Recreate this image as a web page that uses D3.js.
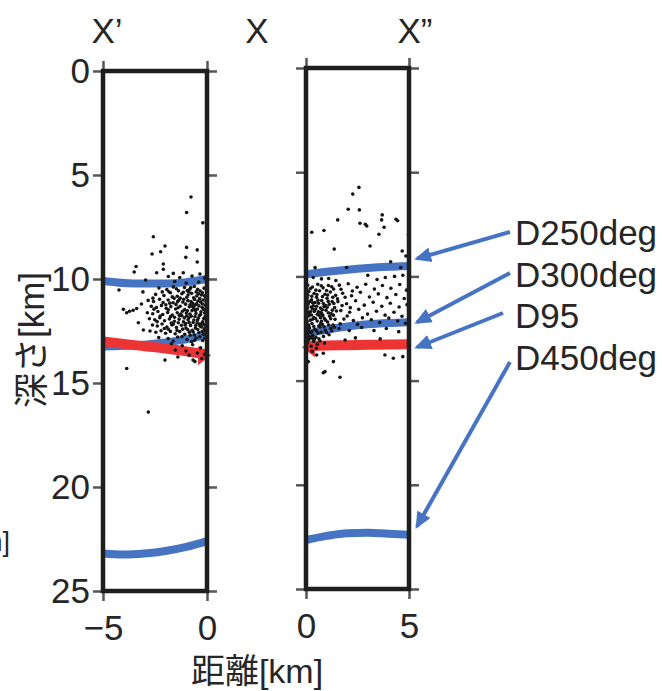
<!DOCTYPE html>
<html>
<head>
<meta charset="utf-8">
<script src="https://cdn.jsdelivr.net/npm/d3@7"></script>
<style>
  body { margin: 0; background: #fff; }
  svg text { font-family: "Liberation Sans", Arial, "Noto Sans CJK JP", sans-serif; fill: #262626; }
</style>
</head>
<body>
<div class="visContainer"></div>
<script>
const w = 662;
const h = 691;

// tick labels / titles
const depthTicks = [0, 5, 10, 15, 20, 25];
const leftDistTicks = [-5, 0];
const rightDistTicks = [0, 5];
const panelTitles = ['X\u2019', 'X', 'X\u201D'];
const bandNames = ['D250deg', 'D300deg', 'D95', 'D450deg'];
const tipDepths = [9.15, 12.2, 13.4, 22.0];

// bands, [distance km, depth km]
const leftD250 = [[-5, 10.1], [-3.5, 10.22], [-2, 10.22], [-1, 10.15], [0, 10.0]];
const leftD300 = [[-5, 13.25], [-3.5, 13.2], [-2, 13.05], [-1, 12.9], [0, 12.7]];
const leftD95 = [[-5, 13.0], [-3.5, 13.18], [-2, 13.34], [-1, 13.48], [0, 13.62]];
const leftD450 = [[-5, 23.2], [-4, 23.25], [-3, 23.2], [-2, 23.08], [-1, 22.88], [0, 22.6]];
const rightD250 = [[0, 9.9], [1, 9.78], [2, 9.68], [3, 9.6], [4, 9.54], [5, 9.5]];
const rightD300 = [[0, 12.8], [0.5, 12.65], [1, 12.55], [2, 12.4], [3, 12.3], [4, 12.24], [5, 12.2]];
const rightD95 = [[0, 13.35], [1, 13.32], [2, 13.3], [3, 13.28], [4, 13.27], [5, 13.25]];
const rightD450 = [[0, 22.65], [1, 22.45], [2, 22.32], [3, 22.3], [4, 22.35], [5, 22.4]];

// hypocentres, [distance km, depth km]
const leftPts = [
  [-0.77,6.06],[-0.98,6.8],[-0.2,7.3],[-2.58,7.97],[-2.02,8.41],[-2.23,8.69],[-2.64,8.8],[-0.98,8.48],[-0.47,8.6],
  [-1.02,8.96],[-0.47,9.18],[-2.1,9.28],[-3.41,9.4],[-2.1,9.53],[-3.5,9.66],[-2.42,9.7],[-1.62,9.73],[-1.14,9.7],
  [-0.34,9.76],[-1.86,9.88],[-1.31,9.93],[-0.72,9.86],[-0.12,9.95],[-2.95,10.05],[-1.55,10.12],[-1.0,10.2],[-0.4,10.15],
  [-4.23,10.53],[-3.08,10.62],[-4.02,11.46],[-3.86,11.62],[-3.55,11.5],[-3.38,11.42],[-3.72,11.55],[-3.06,12.45],
  [-2.74,12.5],[-3.3,12.1],[-3.15,11.2],[-2.02,13.9],[-3.86,14.3],[-0.58,13.97],[-2.82,16.4],[-0.67,13.9],[-0.25,13.82],[-1.4,13.75],
  [-2.31,10.43],[-1.93,10.51],[-1.62,10.38],[-1.37,10.57],[-1.08,10.41],[-0.83,10.49],[-0.61,10.36],[-0.33,10.58],[-0.14,10.44],[-0.52,10.62],
  [-2.47,10.74],[-2.07,10.79],[-1.76,10.66],[-1.43,10.83],[-1.21,10.71],[-0.97,10.88],[-0.74,10.69],[-0.49,10.82],[-0.27,10.77],[-0.06,10.91],[-1.58,10.93],[-0.88,10.62],
  [-2.83,11.03],[-2.57,11.08],[-2.28,10.97],[-2.11,11.13],[-1.87,11.01],[-1.63,11.14],[-1.36,11.02],[-1.16,11.11],[-0.92,11.04],[-0.69,11.17],[-0.44,11.06],[-0.23,11.19],[-0.04,11.08],[-1.49,11.22],[-0.58,11.26],[-1.98,11.24],
  [-2.68,11.31],[-2.43,11.37],[-2.19,11.27],[-1.96,11.41],[-1.74,11.33],[-1.51,11.44],[-1.29,11.31],[-1.07,11.47],[-0.85,11.34],[-0.63,11.42],[-0.39,11.29],[-0.17,11.46],[-0.03,11.37],[-1.18,11.55],[-0.72,11.52],[-0.29,11.58],
  [-2.87,11.62],[-2.61,11.67],[-2.36,11.56],[-2.13,11.71],[-1.89,11.61],[-1.67,11.73],[-1.43,11.62],[-1.21,11.77],[-0.99,11.64],[-0.76,11.79],[-0.53,11.66],[-0.31,11.71],[-0.11,11.63],[-1.56,11.84],[-0.87,11.86],[-0.42,11.88],
  [-2.77,11.91],[-2.51,11.96],[-2.27,11.86],[-2.04,12.01],[-1.81,11.92],[-1.57,12.03],[-1.34,11.93],[-1.13,12.06],[-0.91,11.96],[-0.67,12.09],[-0.45,11.97],[-0.21,12.06],[-0.06,11.92],[-1.72,12.12],[-1.02,12.14],[-0.36,12.16],
  [-2.62,12.21],[-2.39,12.26],[-2.16,12.16],[-1.93,12.31],[-1.69,12.21],[-1.47,12.33],[-1.23,12.22],[-1.01,12.36],[-0.79,12.23],[-0.56,12.36],[-0.34,12.26],[-0.13,12.39],[-1.86,12.41],[-0.92,12.44],
  [-2.46,12.56],[-2.21,12.49],[-1.99,12.61],[-1.76,12.52],[-1.53,12.63],[-1.31,12.53],[-1.07,12.66],[-0.85,12.56],[-0.61,12.69],[-0.39,12.57],[-0.17,12.66],
  [-2.32,12.81],[-1.87,12.86],[-1.41,12.79],[-0.96,12.91],[-0.52,12.84],[-0.21,12.96],[-1.62,12.98],[-0.74,13.02],
  [-1.71,13.11],[-1.19,13.21],[-0.69,13.16],[-0.31,13.31],[-1.01,13.46],[-0.46,13.56],[-1.52,13.41],[-0.12,13.62],[-0.86,13.66],
  [-0.95,10.55],[-0.41,10.71],[-0.19,11.01],[-0.81,11.24],[-0.55,11.51],[-0.09,11.81],[-0.98,11.78],[-0.63,11.97],[-0.27,12.31],
  [-0.71,12.47],[-1.12,10.97],[-0.35,10.94],[-0.15,12.2],[-0.48,12.11],[-1.26,11.68],[-0.08,12.5],[-0.6,10.98],[-1.05,12.21],
  [-1.83,10.61],[-1.47,10.47],[-1.14,10.64],[-0.78,10.41],[-0.45,10.49],[-0.22,10.66],[-0.03,10.52],
  [-1.67,10.86],[-1.29,10.92],[-0.91,10.77],[-0.64,10.9],[-0.12,10.81],
  [-1.79,11.16],[-1.41,11.09],[-1.03,11.21],[-0.77,11.08],[-0.5,11.19],[-0.31,11.1],[-0.1,11.25],
  [-1.86,11.48],[-1.39,11.38],[-0.94,11.53],[-0.69,11.33],[-0.46,11.44],[-0.24,11.36],[-0.06,11.5],
  [-1.75,11.81],[-1.33,11.75],[-1.09,11.87],[-0.82,11.69],[-0.58,11.8],[-0.36,11.76],[-0.16,11.9],[-0.02,11.71],
  [-1.62,12.17],[-1.38,12.1],[-0.86,12.09],[-0.54,12.24],[-0.25,12.14],[-0.04,12.27],
  [-1.44,12.47],[-1.17,12.41],[-0.66,12.55],[-0.44,12.43],[-0.23,12.52],[-0.05,12.4],
  [-1.2,12.77],[-0.81,12.7],[-0.34,12.78],[-0.1,12.85],[-0.6,12.95],
  [-2.55,11.45],[-2.25,11.78],[-2.4,12.05],[-2.05,12.38],[-2.6,10.92],[-2.15,10.62]
];

const rightPts = [
  [2.57,5.73],[2.27,6.05],[2.05,6.78],[2.59,6.81],[1.54,7.29],[3.7,7.05],[3.67,7.29],[4.37,7.26],[4.45,7.33],[2.62,7.45],
  [2.88,7.5],[2.95,7.58],[3.79,7.64],[0.28,7.88],[0.87,7.8],[3.54,7.98],[4.97,8.0],[3.11,8.54],[1.37,8.69],[4.67,8.78],
  [4.85,9.02],[0.44,9.58],[1.97,9.57],[4.11,9.3],[4.6,9.57],
  [0.52,13.77],[0.84,13.69],[1.33,14.09],[3.83,13.77],[4.7,13.85],[0.84,14.62],[1.65,14.84],[0.11,14.09],[0.92,14.57],[4.24,13.93],[0.3,13.6],
  [0.35,10.05],[0.75,10.12],[1.1,10.1],[1.45,10.2],[3.0,9.95],[3.45,10.15],[3.85,10.05],[4.3,10.0],[4.7,9.95],
  [1.62,10.42],[2.05,10.35],[2.48,10.52],[2.9,10.38],[3.32,10.61],[3.71,10.44],[4.12,10.57],[4.55,10.39],[4.88,10.66],
  [1.78,10.81],[2.21,10.93],[2.64,10.76],[3.08,10.99],[3.51,10.84],[3.93,11.02],[4.36,10.87],[4.77,11.06],
  [1.55,11.21],[1.97,11.31],[2.41,11.17],[2.83,11.38],[3.26,11.24],[3.68,11.43],[4.09,11.29],[4.52,11.47],[4.9,11.36],
  [1.69,11.64],[2.12,11.72],[2.56,11.58],[2.99,11.81],[3.42,11.67],[3.84,11.86],[4.27,11.72],[4.66,11.91],
  [1.84,12.05],[2.3,12.12],[2.74,11.99],[3.17,12.08],[3.58,12.21],[4.02,12.0],[4.45,12.14],[4.83,12.25],
  [1.6,12.5],[2.1,12.6],[2.7,12.45],[3.3,12.6],[3.9,12.5],[4.5,12.65],[2.4,12.95],[3.6,13.0],[1.9,13.05],
  [0.08,10.42],[0.31,10.51],[0.57,10.38],[0.83,10.55],[1.09,10.44],[1.34,10.61],
  [0.14,10.73],[0.39,10.82],[0.66,10.69],[0.92,10.86],[1.18,10.75],[1.44,10.91],
  [0.06,11.04],[0.27,11.12],[0.51,11.0],[0.76,11.16],[1.02,11.05],[1.27,11.21],[1.53,11.08],
  [0.11,11.33],[0.36,11.41],[0.61,11.29],[0.87,11.45],[1.13,11.34],[1.39,11.5],
  [0.04,11.61],[0.22,11.69],[0.47,11.57],[0.72,11.73],[0.97,11.62],[1.22,11.78],[1.48,11.66],
  [0.13,11.9],[0.38,11.98],[0.63,11.86],[0.89,12.02],[1.15,11.91],[1.41,12.06],
  [0.05,12.18],[0.29,12.26],[0.54,12.14],[0.79,12.3],[1.05,12.19],[1.31,12.34],
  [0.17,12.47],[0.42,12.55],[0.68,12.43],[0.94,12.59],[1.2,12.49],
  [0.08,12.76],[0.33,12.84],[0.58,12.72],[0.85,12.88],[1.12,12.8],
  [0.12,13.05],[0.37,13.12],[0.63,13.0],[0.25,13.35],[0.5,13.45],[0.9,13.2],
  [0.18,11.2],[0.44,11.25],[0.7,11.52],[0.25,11.47],[0.55,11.82],[0.15,11.78],[0.82,11.88],[0.33,12.05],[0.62,12.38],
  [0.1,12.6],[0.48,12.92],[0.75,12.15],[0.2,12.98],[0.95,11.4],[0.4,11.68],[0.06,12.33],[0.68,13.1],[0.28,12.65],
  [0.03,10.62],[0.22,10.58],[0.48,10.66],[0.74,10.45],[1.0,10.68],[1.25,10.5],
  [0.09,10.9],[0.28,10.95],[0.53,10.87],[0.8,10.97],[1.05,10.89],[1.3,11.0],
  [0.02,11.22],[0.32,11.27],[0.58,11.14],[0.84,11.3],[1.08,11.2],[1.35,11.3],
  [0.07,11.5],[0.31,11.55],[0.52,11.43],[0.79,11.6],[1.03,11.48],[1.28,11.62],
  [0.1,11.72],[0.27,11.85],[0.6,11.7],[0.77,11.8],[1.08,11.75],[1.33,11.86],
  [0.03,11.95],[0.21,12.1],[0.46,12.02],[0.7,11.98],[0.95,12.1],[1.2,12.03],
  [0.13,12.34],[0.38,12.4],[0.7,12.28],[0.88,12.42],[1.1,12.33],[1.38,12.44],
  [0.04,12.48],[0.23,12.7],[0.5,12.6],[0.74,12.68],[1.0,12.7],[1.25,12.62],
  [0.02,12.88],[0.17,12.9],[0.4,13.02],[0.07,13.2],[0.55,13.25],[0.3,12.95],
  [1.7,10.62],[1.9,11.0],[1.75,11.4],[2.0,11.9],[1.66,12.28],[2.25,10.7],[2.15,11.5],[2.5,12.3]
];

const blue = '#4674c3';
const red = '#ec3434';
const fontSize = 35;

const svg = d3.select('.visContainer')
  .append('svg')
  .attr('width', w)
  .attr('height', h);

const xL = d3.scaleLinear().domain([-5, 0]).range([103, 207]);
const yL = d3.scaleLinear().domain([0, 25]).range([71, 591]);
const xR = d3.scaleLinear().domain([0, 5]).range([306, 409]);
const yR = d3.scaleLinear().domain([0, 25]).range([68, 589]);

// arrow marker for the callouts
svg.append('defs')
  .append('marker')
  .attr('id', 'callHead')
  .attr('markerUnits', 'userSpaceOnUse')
  .attr('viewBox', '0 -8 17 16')
  .attr('refX', 14)
  .attr('refY', 0)
  .attr('markerWidth', 17)
  .attr('markerHeight', 16)
  .attr('orient', 'auto')
  .append('path')
  .attr('d', 'M0,-7.5L17,0L0,7.5Z')
  .attr('fill', blue);

function drawPanel(x, y, xTicks, withLabels, bands, redBand, redDir, pts) {
  const g = svg.append('g');
  const line = d3.line()
    .x((d) => x(d[0]))
    .y((d) => y(d[1]))
    .curve(d3.curveMonotoneX);

  bands.forEach((b) => {
    g.append('path')
      .attr('d', line(b))
      .attr('fill', 'none')
      .attr('stroke', blue)
      .attr('stroke-width', 8);
  });

  g.append('path')
    .attr('d', line(redBand))
    .attr('fill', 'none')
    .attr('stroke', red)
    .attr('stroke-width', 10);

  // arrow head on the red band
  const end = redDir > 0 ? redBand[redBand.length - 1] : redBand[0];
  const ex = x(end[0]);
  const ey = y(end[1]);
  g.append('path')
    .attr('d', 'M' + (ex + redDir * 4) + ',' + (ey + 1) +
      'L' + (ex - redDir * 9) + ',' + (ey - 8) +
      'L' + (ex - redDir * 9) + ',' + (ey + 11) + 'Z')
    .attr('fill', red);

  g.selectAll('circle')
    .data(pts)
    .enter()
    .append('circle')
    .attr('cx', (d) => x(d[0]))
    .attr('cy', (d) => y(d[1]))
    .attr('r', 1.8)
    .attr('fill', '#151515');

  const x0 = x.range()[0], x1 = x.range()[1];
  const y0 = y.range()[0], y1 = y.range()[1];

  // ticks on all four sides
  const tickStyle = (sel) => {
    sel.select('.domain').remove();
    sel.selectAll('line').attr('stroke', '#555').attr('stroke-width', 2.5);
    sel.selectAll('text').style('font-size', fontSize + 'px').attr('fill', '#262626');
  };
  const ax = [
    g.append('g').attr('transform', 'translate(' + x0 + ',0)')
      .call(d3.axisLeft(y).tickValues(depthTicks).tickSize(10).tickPadding(3)
        .tickFormat(withLabels ? d3.format('d') : '')),
    g.append('g').attr('transform', 'translate(' + x1 + ',0)')
      .call(d3.axisRight(y).tickValues(depthTicks).tickSize(10).tickFormat('')),
    g.append('g').attr('transform', 'translate(0,' + y0 + ')')
      .call(d3.axisTop(x).tickValues(xTicks).tickSize(10).tickFormat('')),
    g.append('g').attr('transform', 'translate(0,' + y1 + ')')
      .call(d3.axisBottom(x).tickValues(xTicks).tickSize(10).tickPadding(14)
        .tickFormat(d3.format('d')))
  ];
  ax.forEach(tickStyle);

  g.append('rect')
    .attr('x', x0)
    .attr('y', y0)
    .attr('width', x1 - x0)
    .attr('height', y1 - y0)
    .attr('fill', 'none')
    .attr('stroke', '#1e1e1e')
    .attr('stroke-width', 4.5);
}

drawPanel(xL, yL, leftDistTicks, true, [leftD250, leftD300, leftD450], leftD95, 1, leftPts);
drawPanel(xR, yR, rightDistTicks, false, [rightD250, rightD300, rightD450], rightD95, -1, rightPts);

// panel titles
const titleX = [107, 257, 415];
panelTitles.forEach((t, i) => {
  svg.append('text')
    .attr('x', titleX[i])
    .attr('y', 43)
    .attr('text-anchor', 'middle')
    .style('font-size', fontSize + 'px')
    .text(t);
});

// axis titles
svg.append('text')
  .attr('transform', 'translate(44,340) rotate(-90)')
  .attr('text-anchor', 'middle')
  .style('font-size', fontSize + 'px')
  .text('深さ[km]');

svg.append('text')
  .attr('x', 257)
  .attr('y', 683)
  .attr('text-anchor', 'middle')
  .style('font-size', '34px')
  .text('距離[km]');

// clipped label from a neighbouring panel
svg.append('text')
  .attr('x', 10)
  .attr('y', 551)
  .attr('text-anchor', 'end')
  .style('font-size', '27px')
  .text('[km]');

// callouts
const labelY = [245, 287, 328, 370];
const tailPts = [[510, 232], [510, 273], [503, 313], [510, 362]];
bandNames.forEach((name, i) => {
  svg.append('text')
    .attr('x', 515)
    .attr('y', labelY[i])
    .style('font-size', fontSize + 'px')
    .text(name);
  svg.append('line')
    .attr('x1', tailPts[i][0])
    .attr('y1', tailPts[i][1])
    .attr('x2', xR(5) + 8)
    .attr('y2', yR(tipDepths[i]))
    .attr('stroke', blue)
    .attr('stroke-width', 4)
    .attr('marker-end', 'url(#callHead)');
});
</script>
</body>
</html>
